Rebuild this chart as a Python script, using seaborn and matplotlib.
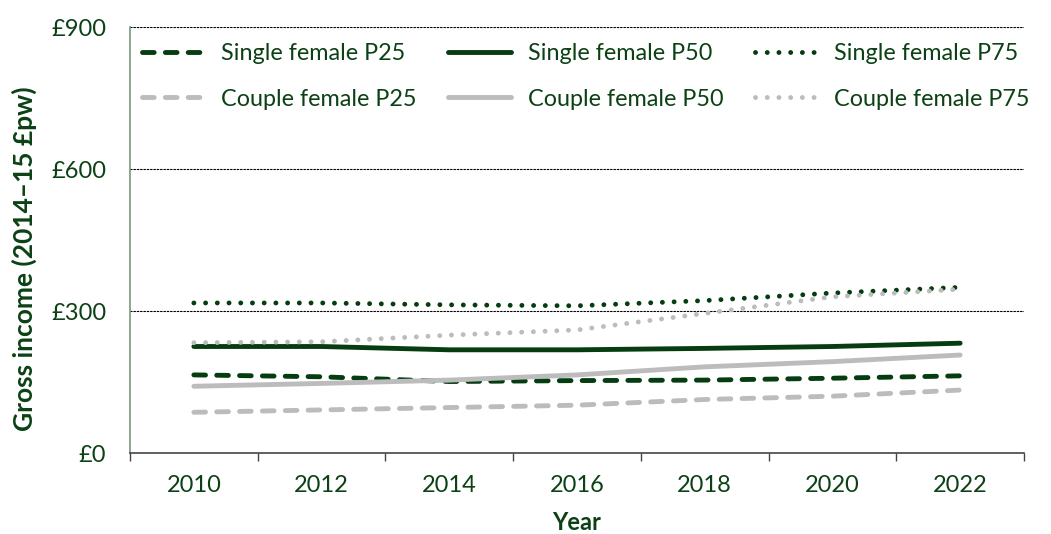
import matplotlib
matplotlib.use("Agg")
import matplotlib.pyplot as plt
import seaborn as sns
import pandas as pd

# Data (2014-15 £ per week)
years = [2010, 2012, 2014, 2016, 2018, 2020, 2022]
single_p25 = [165, 161, 151, 153, 154, 158, 163]
single_p50 = [225, 225, 218, 218, 221, 225, 232]
single_p75 = [317, 317, 313, 311, 322, 338, 350]
couple_p25 = [86, 91, 96, 101, 113, 120, 133]
couple_p50 = [141, 147, 154, 165, 182, 193, 207]
couple_p75 = [233, 235, 249, 260, 295, 330, 346]

series = {
    "Single female P25": single_p25,
    "Couple female P25": couple_p25,
    "Single female P50": single_p50,
    "Couple female P50": couple_p50,
    "Single female P75": single_p75,
    "Couple female P75": couple_p75,
}

df = pd.concat(
    [pd.DataFrame({"Year": years, "value": vals, "series": name}) for name, vals in series.items()],
    ignore_index=True,
)

green = "#063d10"
grey = "#bcbcbc"
text_col = "#0b4115"
palette = {k: (green if k.startswith("Single") else grey) for k in series}
dash_map = {}
for k in series:
    if k.endswith("P25"):
        dash_map[k] = (2.4, 2.3)
    elif k.endswith("P50"):
        dash_map[k] = ""
    else:
        dash_map[k] = (0.01, 2.4)

sns.set_style("white")
plt.rcParams["font.family"] = ["Lato", "DejaVu Sans"]
plt.rcParams["lines.dash_capstyle"] = "round"
plt.rcParams["lines.solid_capstyle"] = "round"

fig = plt.figure(figsize=(10.51, 5.34), dpi=100)
ax = fig.add_axes([130 / 1051, 1 - 453 / 534, (1024 - 130) / 1051, (453 - 27) / 534])

sns.lineplot(data=df, x="Year", y="value", hue="series", style="series",
             palette=palette, dashes=dash_map, hue_order=list(series),
             style_order=list(series), linewidth=3.5, ax=ax)

ax.set_xlim(2009, 2023)
ax.set_ylim(0, 900)

# y axis
ax.set_yticks([0, 300, 600, 900])
ax.set_yticklabels(["£0", "£300", "£600", "£900"])
for y in [300, 600, 900]:
    ax.axhline(y, color="black", lw=0.8, ls=(0, (1.5, 1.5)), zorder=0)

# x axis: tick marks between labels (odd years), labels on even years
ax.set_xticks(list(range(2009, 2024, 2)))
ax.set_xticklabels([])
ax.set_xticks(years, minor=True)
ax.set_xticklabels([str(y) for y in years], minor=True)
ax.tick_params(axis="x", which="major", length=6, width=1, color="#444444", direction="out")
ax.tick_params(axis="x", which="minor", length=0, pad=16, labelsize=17, labelcolor=text_col)
ax.tick_params(axis="y", length=6, width=1, color="#7a9a7a", direction="out",
               labelsize=17, labelcolor=text_col, pad=11)
ax.tick_params(axis="x", bottom=True)

for s in ["top", "right"]:
    ax.spines[s].set_visible(False)
ax.spines["left"].set_color("#7a9a7a")
ax.spines["left"].set_linewidth(1.2)
ax.spines["bottom"].set_color("#444444")
ax.spines["bottom"].set_linewidth(1.2)

ax.set_xlabel("Year", fontsize=17, fontweight="bold", color=text_col, labelpad=11)
ax.set_ylabel("Gross income (2014–15 £pw)", fontsize=19, fontweight="bold",
              color=text_col, labelpad=10)
ax.yaxis.label.set_y(0.455)

handles, labels = ax.get_legend_handles_labels()
ax.get_legend().remove()
leg = fig.legend(handles, labels, ncol=3, loc="upper left",
                 bbox_to_anchor=(142 / 1051, 1 - 43 / 534), bbox_transform=fig.transFigure,
                 frameon=False, fontsize=16.8, handlelength=2.7, columnspacing=1.35,
                 handletextpad=0.7, labelspacing=1.05, borderpad=0, borderaxespad=0)
for t in leg.get_texts():
    t.set_color(text_col)
for line in leg.get_lines():
    line.set_linewidth(3.5)

fig.savefig("out.png", dpi=100)
